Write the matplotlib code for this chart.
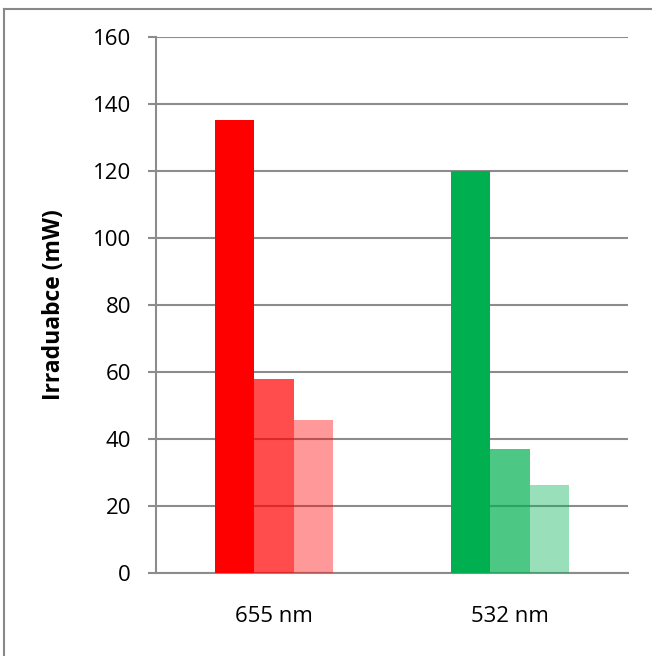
import numpy as np
import matplotlib
matplotlib.use("Agg")
import matplotlib.pyplot as plt
from matplotlib.lines import Line2D

categories = ["655 nm", "532 nm"]
bar1 = [135.3, 120.0]
bar2 = [57.9, 37.0]
bar3 = [45.7, 26.3]
base_colors = ["#FF0000", "#00B050"]
alphas = [1.0, 0.7, 0.4]

plt.rcParams['font.family'] = ['Open Sans', 'DejaVu Sans']

fig = plt.figure(figsize=(6.52, 6.56), dpi=100)
ax = fig.add_axes([156/652, 1-573/656, (628-156)/652, (573-37)/656])

x = np.arange(len(categories))
w = 0.167
series = [bar1, bar2, bar3]
for i, vals in enumerate(series):
    for j in range(len(categories)):
        ax.bar(x[j] + (i - 1) * w, vals[j], width=w, color=base_colors[j],
               alpha=alphas[i], linewidth=0, zorder=3)

ax.set_xlim(-0.5, 1.5)
ax.set_ylim(0, 160)
ax.set_yticks(np.arange(0, 161, 20))
ax.set_xticks(x)
ax.set_xticklabels(categories)
ax.yaxis.grid(True, color="#8c8c8c", linewidth=1.5, zorder=0)
ax.set_axisbelow(True)

for s in ["top", "right"]:
    ax.spines[s].set_visible(False)
for s in ["left", "bottom"]:
    ax.spines[s].set_color("#8c8c8c")
    ax.spines[s].set_linewidth(1.5)
ax.tick_params(axis="y", length=6, width=1.5, color="#8c8c8c", labelsize=16, pad=12)
ax.tick_params(axis="x", length=0, labelsize=16, pad=24)
ax.set_ylabel("Irraduabce (mW)", fontsize=16.5, fontweight="bold", labelpad=19)

# chart frame
fig.add_artist(Line2D([4/652, 1], [1-9/656, 1-9/656], color="#888888", linewidth=1.5,
                      transform=fig.transFigure))
fig.add_artist(Line2D([4/652, 4/652], [0, 1-9/656], color="#888888", linewidth=1.5,
                      transform=fig.transFigure))

fig.savefig("out.png", dpi=100)
